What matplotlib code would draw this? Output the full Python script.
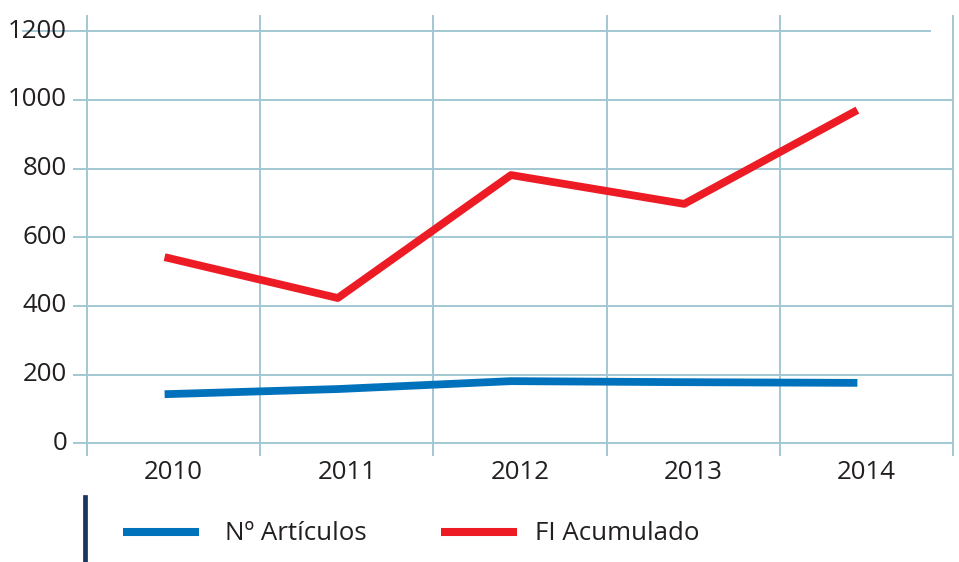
import matplotlib
matplotlib.use("Agg")
import matplotlib.pyplot as plt
from matplotlib.lines import Line2D

# series data
years = ["2010", "2011", "2012", "2013", "2014"]
articulos = [143, 158, 181, 178, 176]
fi_acumulado = [542, 423, 781, 697, 970]
y_ticks = [0, 200, 400, 600, 800, 1000, 1200]

BLUE = "#0072BC"
RED = "#ED1C24"
GRID = "#A3C7D4"
TEXT = "#231F20"
NAVY = "#1B3460"
FS = 18.6

plt.rcParams["font.family"] = ["Open Sans", "DejaVu Sans"]

fig = plt.figure(figsize=(9.59, 5.62), dpi=100)
ax = fig.add_axes([87 / 959, 107 / 562, 866 / 959, 439 / 562])
ax.set_xlim(-0.5, 4.5)
ax.set_ylim(-34, 1244)
for s in ax.spines.values():
    s.set_visible(False)
ax.set_xticks([])
ax.set_yticks([])

# grid: vertical lines at category boundaries, horizontal at value ticks
px = 5.0 / 866  # data units per pixel along x
for b in range(len(years) + 1):
    ax.axvline(b - 0.5, color=GRID, lw=1.4, clip_on=False, zorder=1)
for v in y_ticks:
    x0 = -0.5 - 13 * px
    x1 = 4.5
    if v == y_ticks[-1]:
        x0, x1 = -0.5 - 64 * px, 4.5 - 23 * px
    ax.plot([x0, x1], [v, v], color=GRID, lw=1.4, clip_on=False, zorder=1)
    ax.text(-0.5 - 20 * px, v, str(v), ha="right", va="center",
            fontsize=FS, color=TEXT)

for i, yr in enumerate(years):
    ax.text(i, -50, yr, ha="center", va="top", fontsize=FS, color=TEXT)

# lines sit slightly left of the category centres
shift = -9 * px
xs = [i + shift for i in range(len(years))]
ax.plot(xs, articulos, color=BLUE, lw=5.6, solid_capstyle="butt", zorder=3)
ax.plot(xs, fi_acumulado, color=RED, lw=5.6, solid_capstyle="butt", zorder=3)

# legend drawn below the plot
fig.add_artist(Line2D([85 / 959, 85 / 959], [0, 65 / 562], color=NAVY, lw=3.4))
ly = 30 / 562
fig.add_artist(Line2D([123 / 959, 199 / 959], [ly, ly], color=BLUE, lw=5.8,
                      solid_capstyle="butt"))
fig.text(225 / 959, ly - 2 / 562, "Nº Artículos", ha="left", va="center",
         fontsize=FS, color=TEXT)
fig.add_artist(Line2D([441 / 959, 517 / 959], [ly, ly], color=RED, lw=5.8,
                      solid_capstyle="butt"))
fig.text(535 / 959, ly - 2 / 562, "FI Acumulado", ha="left", va="center",
         fontsize=FS, color=TEXT)

fig.savefig("out.png", dpi=100)
